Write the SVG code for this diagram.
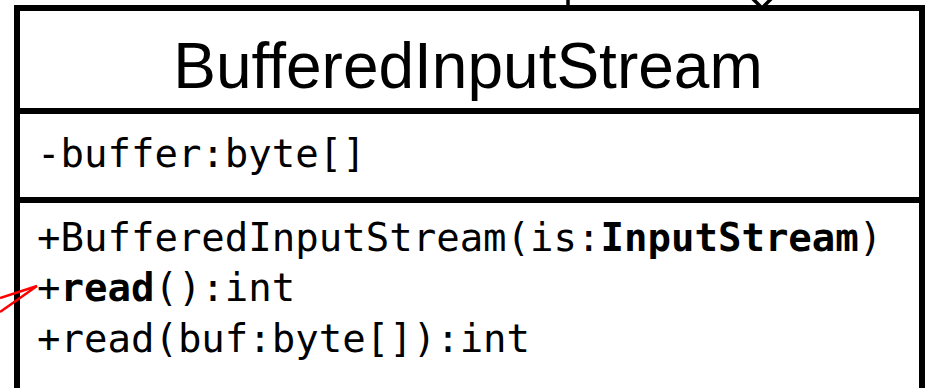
<svg xmlns="http://www.w3.org/2000/svg" width="928" height="388" viewBox="0 0 928 388">
  <style>
    .box { fill: #ffffff; stroke: #000000; stroke-width: 6; }
    .sep { stroke: #000000; stroke-width: 6; }
    .title { font-family: "Liberation Sans", Arial, sans-serif; font-size: 64px; fill: #000000; }
    .mono { font-family: "DejaVu Sans Mono", "Liberation Mono", monospace; font-size: 39px; fill: #000000; }
    .b { font-weight: bold; }
    .edge { fill: none; stroke: #000000; stroke-width: 3.5; }
    .link { fill: none; stroke: #ff0000; stroke-width: 2.5; }
  </style>

  <!-- class node -->
  <g id="BufferedInputStream">
    <rect class="box" x="17" y="8" width="905" height="400"/>
    <line class="sep" x1="17" y1="111" x2="922" y2="111"/>
    <line class="sep" x1="17" y1="200" x2="922" y2="200"/>
    <text class="title" x="468" y="88" text-anchor="middle">BufferedInputStream</text>
    <text class="mono" x="37" y="167">-buffer:byte[]</text>
    <text class="mono" x="37" y="251">+BufferedInputStream(is:<tspan class="b">InputStream</tspan>)</text>
    <text class="mono" x="37" y="301">+<tspan class="b">read</tspan>():int</text>
    <text class="mono" x="37" y="352">+read(buf:byte[]):int</text>
  </g>

  <!-- incoming connectors -->
  <g id="connectors">
    <line class="edge" x1="568" y1="0" x2="568" y2="8"/>
    <polygon points="762,8 774,-4 762,-16 750,-4" fill="#ffffff" stroke="#000000" stroke-width="3.5"/>
    <polyline class="link" points="0,298 37,286 0,312"/>
  </g>
</svg>
